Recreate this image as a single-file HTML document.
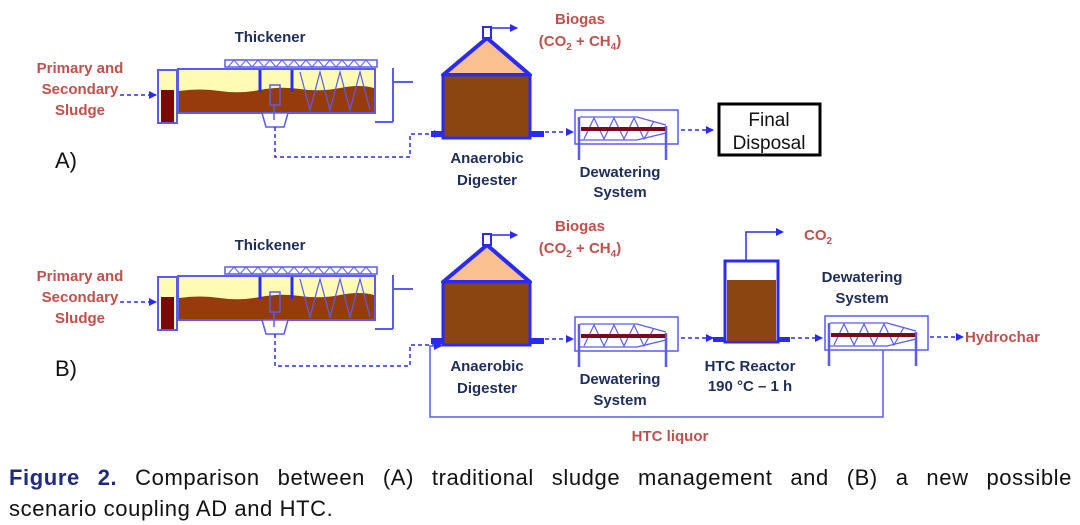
<!DOCTYPE html>
<html><head><meta charset="utf-8"><style>
html,body{margin:0;padding:0;background:#fff;width:1080px;height:525px;overflow:hidden;position:relative}
svg{display:block}
.r{fill:#c0504d;font-family:"Liberation Sans",sans-serif;font-weight:bold;font-size:15px}
.n{fill:#1f2d5a;font-family:"Liberation Sans",sans-serif;font-weight:bold;font-size:15px}
.cap{position:absolute;left:9px;width:1063px;font-family:"Liberation Sans",sans-serif;font-size:22px;color:#111;letter-spacing:0.6px;white-space:nowrap}
</style></head><body>
<svg width="1080" height="525" viewBox="0 0 1080 525" xmlns="http://www.w3.org/2000/svg">
<defs>
<marker id="ah" markerWidth="8" markerHeight="8" refX="7" refY="4" orient="auto" markerUnits="userSpaceOnUse">
<path d="M0,0 L8,4 L0,8 z" fill="#2b2bf0"/></marker>
<g id="thick">
  <rect x="225" y="60" width="152" height="7" fill="none" stroke="#5a5af5" stroke-width="1.5"/>
  <path d="M228,67 L234,60 L240,67 L246,60 L252,67 L258,60 L264,67 L270,60 L276,67 L282,60 L288,67 L294,60 L300,67 L306,60 L312,67 L318,60 L324,67 L330,60 L336,67 L342,60 L348,67 L354,60 L360,67 L366,60 L372,67" fill="none" stroke="#5a5af5" stroke-width="1"/>
  <rect x="158" y="70" width="19" height="53" fill="#fffbb5" stroke="#5a5af5" stroke-width="2"/>
  <rect x="161" y="90" width="13" height="32" fill="#7a0a0a"/>
  <rect x="178" y="69" width="197" height="44" fill="#fffbb5" stroke="#5a5af5" stroke-width="2"/>
  <path d="M179,91 Q200,88 220,91 T260,90 T300,89 T340,88 T374,88 L374,112 L179,112 z" fill="#963c0c"/>
  <path d="M260,70 L260,92 M292,70 L292,92" stroke="#2b2bf0" stroke-width="3"/>
  <rect x="270" y="85" width="10" height="20" fill="none" stroke="#5a5af5" stroke-width="1.5"/>
  <path d="M300,72 L310,110 L320,72 L330,110 L340,72 L350,110 L360,72 L370,110" fill="none" stroke="#5a5af5" stroke-width="1.2"/>
  <path d="M262,113 L288,113 L284,127 L266,127 z" fill="#fff" stroke="#5a5af5" stroke-width="1.5"/>
  <path d="M274,105 L274,120" stroke="#5a5af5" stroke-width="1.5"/>
  <path d="M393,68 L393,122 M375,122 L393,122 M393,82 L413,82" stroke="#5a5af5" stroke-width="2" fill="none"/>
</g>
<g id="dig">
  <path d="M443,75 L487,38 L530,75 z" fill="#fbc08f" stroke="#2b2bf0" stroke-width="4" stroke-linejoin="round"/>
  <rect x="443" y="75" width="87" height="63" fill="#8b4510" stroke="#2b2bf0" stroke-width="3"/>
  <rect x="483" y="27" width="8" height="11" fill="#fff" stroke="#2b2bf0" stroke-width="2"/>
  <path d="M491,28 L517,28" stroke="#2b2bf0" stroke-width="1.5" marker-end="url(#ah)"/>
  <rect x="431" y="131" width="12" height="6" fill="#2b2bf0"/>
  <rect x="530" y="131" width="14" height="6" fill="#2b2bf0"/>
</g>
<g id="dew">
  <rect x="575" y="110" width="103" height="34" fill="none" stroke="#5a5af5" stroke-width="1.5"/>
  <path d="M579,117 L579,160 M666,126 L666,160" stroke="#5a5af5" stroke-width="2.5"/>
  <path d="M580,117 L637,117 L666,125 M580,140 L637,140 L666,133" fill="none" stroke="#5a5af5" stroke-width="1.3"/>
  <path d="M584,139 L594,118 L604,139 L614,118 L624,139 L634,118 L644,139 L654,121" fill="none" stroke="#5a5af5" stroke-width="1.2"/>
  <rect x="581" y="127" width="84" height="4" fill="#7a0a1a"/>
</g>
</defs>

<text class="r" x="80" y="73" text-anchor="middle">Primary and</text>
<text class="r" x="80" y="94" text-anchor="middle">Secondary</text>
<text class="r" x="80" y="115" text-anchor="middle">Sludge</text>
<path d="M120,95 L156,95" stroke="#2b2bf0" stroke-width="1.5" stroke-dasharray="4,3" marker-end="url(#ah)"/>
<text class="n" x="270" y="42" text-anchor="middle">Thickener</text>
<use href="#thick"/>
<path d="M275,127 L275,157 L410,157 L410,134 L441,134" fill="none" stroke="#2b2bf0" stroke-width="1.5" stroke-dasharray="4,3" marker-end="url(#ah)"/>
<use href="#dig"/>
<text class="r" x="580" y="24" text-anchor="middle">Biogas</text>
<text class="r" x="580" y="46" text-anchor="middle">(CO<tspan font-size="10" dy="4">2</tspan><tspan dy="-4"> + CH</tspan><tspan font-size="10" dy="4">4</tspan><tspan dy="-4">)</tspan></text>
<path d="M545,132 L573,132" stroke="#2b2bf0" stroke-width="1.5" stroke-dasharray="4,3" marker-end="url(#ah)"/>
<use href="#dew"/>
<path d="M681,130 L713,130" stroke="#2b2bf0" stroke-width="1.5" stroke-dasharray="4,3" marker-end="url(#ah)"/>
<rect x="719" y="104" width="101" height="51" fill="#fff" stroke="#000" stroke-width="3"/>
<text x="769" y="126" text-anchor="middle" font-family="Liberation Sans,sans-serif" font-size="19" fill="#111">Final</text>
<text x="769" y="149" text-anchor="middle" font-family="Liberation Sans,sans-serif" font-size="19" fill="#111">Disposal</text>
<text class="n" x="487" y="163" text-anchor="middle">Anaerobic</text>
<text class="n" x="487" y="185" text-anchor="middle">Digester</text>
<text class="n" x="620" y="177" text-anchor="middle">Dewatering</text>
<text class="n" x="620" y="197" text-anchor="middle">System</text>
<text x="55" y="168" font-family="Liberation Sans,sans-serif" font-size="22" fill="#111">A)</text>

<text class="r" x="80" y="281" text-anchor="middle">Primary and</text>
<text class="r" x="80" y="302" text-anchor="middle">Secondary</text>
<text class="r" x="80" y="323" text-anchor="middle">Sludge</text>
<path d="M120,302 L156,302" stroke="#2b2bf0" stroke-width="1.5" stroke-dasharray="4,3" marker-end="url(#ah)"/>
<text class="n" x="270" y="250" text-anchor="middle">Thickener</text>
<use href="#thick" transform="translate(0,207)"/>
<path d="M275,334 L275,366 L410,366 L410,345 L441,345" fill="none" stroke="#2b2bf0" stroke-width="1.5" stroke-dasharray="4,3" marker-end="url(#ah)"/>
<use href="#dig" transform="translate(0,207)"/>
<text class="r" x="580" y="231" text-anchor="middle">Biogas</text>
<text class="r" x="580" y="253" text-anchor="middle">(CO<tspan font-size="10" dy="4">2</tspan><tspan dy="-4"> + CH</tspan><tspan font-size="10" dy="4">4</tspan><tspan dy="-4">)</tspan></text>
<path d="M545,339 L573,339" stroke="#2b2bf0" stroke-width="1.5" stroke-dasharray="4,3" marker-end="url(#ah)"/>
<use href="#dew" transform="translate(0,207)"/>
<path d="M681,338 L713,338" stroke="#2b2bf0" stroke-width="1.5" stroke-dasharray="4,3" marker-end="url(#ah)"/>
<rect x="725" y="261" width="53" height="81" fill="#fff" stroke="#2b2bf0" stroke-width="3"/>
<rect x="727" y="280" width="49" height="61" fill="#8b4510"/>
<rect x="713" y="337" width="12" height="5" fill="#2b2bf0"/>
<rect x="778" y="337" width="12" height="5" fill="#2b2bf0"/>
<path d="M746,260 L746,232 L783,232" fill="none" stroke="#2b2bf0" stroke-width="1.5" marker-end="url(#ah)"/>
<text class="r" x="804" y="240">CO<tspan font-size="10" dy="4">2</tspan></text>
<path d="M791,338 L822,338" stroke="#2b2bf0" stroke-width="1.5" stroke-dasharray="4,3" marker-end="url(#ah)"/>
<use href="#dew" transform="translate(250,206)"/>
<path d="M930,337 L963,337" stroke="#2b2bf0" stroke-width="1.5" stroke-dasharray="4,3" marker-end="url(#ah)"/>
<text class="r" x="965" y="342">Hydrochar</text>
<path d="M883,350 L883,417 L430,417 L430,346 L441,346" fill="none" stroke="#5a5af5" stroke-width="1.5" marker-end="url(#ah)"/>
<text class="r" x="670" y="441" text-anchor="middle">HTC liquor</text>
<text class="n" x="487" y="371" text-anchor="middle">Anaerobic</text>
<text class="n" x="487" y="393" text-anchor="middle">Digester</text>
<text class="n" x="620" y="384" text-anchor="middle">Dewatering</text>
<text class="n" x="620" y="405" text-anchor="middle">System</text>
<text class="n" x="750" y="371" text-anchor="middle">HTC Reactor</text>
<text class="n" x="750" y="391" text-anchor="middle">190 °C – 1 h</text>
<text class="n" x="862" y="282" text-anchor="middle">Dewatering</text>
<text class="n" x="862" y="303" text-anchor="middle">System</text>
<text x="55" y="376" font-family="Liberation Sans,sans-serif" font-size="22" fill="#111">B)</text>
</svg>
<div class="cap" style="top:465px;text-align:justify;text-align-last:justify;white-space:normal"><b style="color:#1f2a80">Figure 2.</b> Comparison between (A) traditional sludge management and (B) a new possible</div>
<div class="cap" style="top:496px">scenario coupling AD and HTC.</div>
</body></html>
